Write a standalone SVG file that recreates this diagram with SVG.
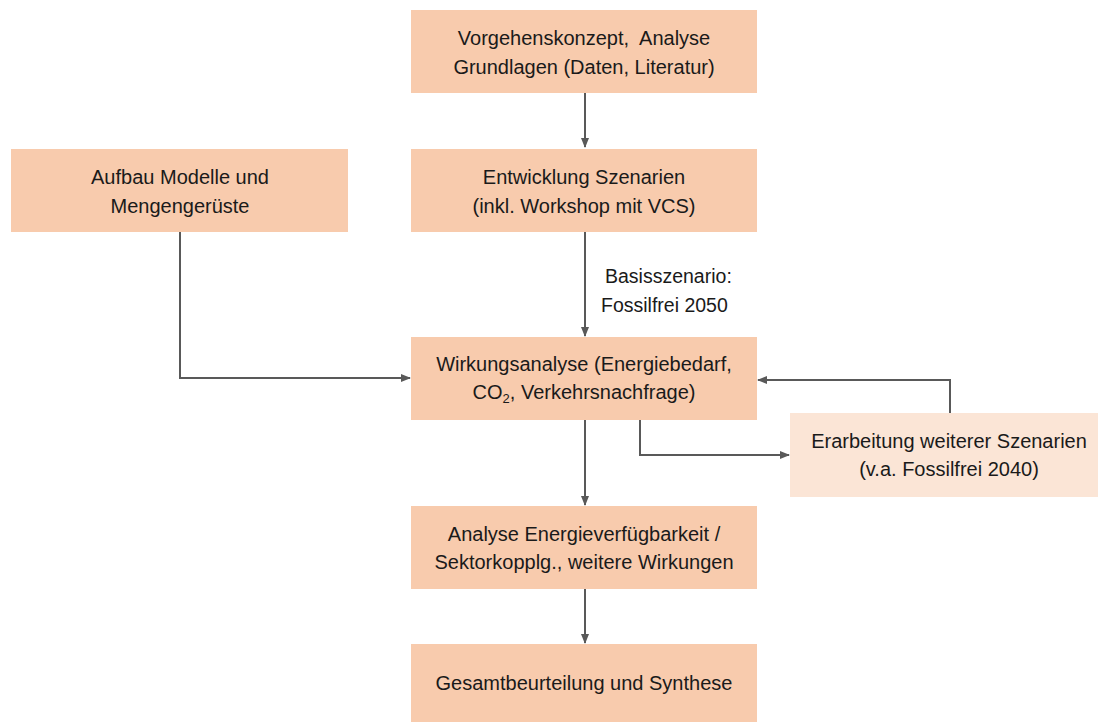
<svg xmlns="http://www.w3.org/2000/svg" width="1098" height="722" viewBox="0 0 1098 722">
<style>
.box{fill:#F8CBAD}
.light{fill:#FBE5D6}
.t{font-family:"Liberation Sans",Arial,sans-serif;font-size:20px;fill:#1a1a1a;text-anchor:middle}
.lbl{font-family:"Liberation Sans",Arial,sans-serif;font-size:19.5px;fill:#1a1a1a;text-anchor:start}
.c{fill:none;stroke:#595959;stroke-width:2}
</style>
<defs>
<marker id="ah" markerWidth="10" markerHeight="10" refX="9" refY="5" orient="auto" markerUnits="userSpaceOnUse">
<path d="M0,1 L10,5 L0,9 Z" fill="#595959"/>
</marker>
</defs>
<rect width="1098" height="722" fill="#ffffff"/>
<g id="connectors">
<path class="c" d="M585,93 L585,147" marker-end="url(#ah)"/>
<path class="c" d="M585,232 L585,336" marker-end="url(#ah)"/>
<path class="c" d="M180,232 L180,378 L410,378" marker-end="url(#ah)"/>
<path class="c" d="M950,413 L950,380 L758,380" marker-end="url(#ah)"/>
<path class="c" d="M640,420 L640,455 L789,455" marker-end="url(#ah)"/>
<path class="c" d="M585,420 L585,505" marker-end="url(#ah)"/>
<path class="c" d="M585,589 L585,643" marker-end="url(#ah)"/>
<text class="lbl" x="605" y="283">Basisszenario:</text>
<text class="lbl" x="601" y="312">Fossilfrei 2050</text>
</g>
<g id="n-vorgehen">
<rect class="box" x="411" y="10" width="346" height="83"/>
<text class="t" x="584" y="45" style="white-space:pre">Vorgehenskonzept,  Analyse</text>
<text class="t" x="584" y="74">Grundlagen (Daten, Literatur)</text>
</g>
<g id="n-entwicklung">
<rect class="box" x="411" y="149" width="346" height="83"/>
<text class="t" x="584" y="184">Entwicklung Szenarien</text>
<text class="t" x="584" y="213">(inkl. Workshop mit VCS)</text>
</g>
<g id="n-aufbau">
<rect class="box" x="11" y="149" width="337" height="83"/>
<text class="t" x="180" y="184">Aufbau Modelle und</text>
<text class="t" x="180" y="213">Mengengerüste</text>
</g>
<g id="n-wirkung">
<rect class="box" x="411" y="337" width="346" height="83"/>
<text class="t" x="584" y="371">Wirkungsanalyse (Energiebedarf,</text>
<text class="t" x="584" y="399">CO<tspan font-size="13" dy="4">2</tspan><tspan dy="-4">, Verkehrsnachfrage)</tspan></text>
</g>
<g id="n-erarbeitung">
<rect class="light" x="790" y="413" width="308" height="84"/>
<text class="t" x="949" y="448">Erarbeitung weiterer Szenarien</text>
<text class="t" x="949" y="476">(v.a. Fossilfrei 2040)</text>
</g>
<g id="n-analyse">
<rect class="box" x="411" y="506" width="346" height="83"/>
<text class="t" x="584" y="541">Analyse Energieverfügbarkeit /</text>
<text class="t" x="584" y="569">Sektorkopplg., weitere Wirkungen</text>
</g>
<g id="n-gesamt">
<rect class="box" x="411" y="644" width="346" height="78"/>
<text class="t" x="584" y="690">Gesamtbeurteilung und Synthese</text>
</g>
</svg>
